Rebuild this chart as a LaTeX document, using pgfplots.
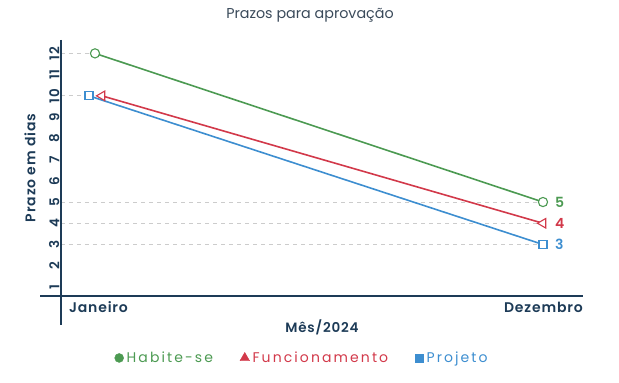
\documentclass[border=0pt]{standalone}
\usepackage{fontspec}
\setmainfont{Poppins}
\newfontfamily\lsfont[LetterSpace=15]{Poppins}
\newfontfamily\bfls[LetterSpace=6]{Poppins SemiBold}
\usepackage{pgfplots}
\pgfplotsset{compat=1.18}
\definecolor{cg}{HTML}{4C9A52}
\definecolor{cr}{HTML}{D2394A}
\definecolor{cb}{HTML}{3D8ED0}
\definecolor{navy}{HTML}{1D3B57}
\definecolor{ttl}{HTML}{3A4A5A}
\definecolor{dgray}{HTML}{CCCCCC}
\begin{document}
\begin{tikzpicture}
\begin{axis}[
  scale only axis, width=522pt, height=256pt,
  xmin=-0.0759, xmax=1.0893, ymin=0.575, ymax=12.63,
  axis line style={draw=none}, clip=false,
  xtick=\empty,
  ytick={1,2,3,4,5,6,7,8,9,10,11,12},
  major tick length=0pt,
  /pgf/number format/assume math mode=true,
  yticklabel style={rotate=90, anchor=south, font=\bfls\fontsize{13.5}{15}\selectfont, text=navy, inner sep=1.5pt},
  legend style={at={(rel axis cs:0.462,-0.242)}, anchor=center, draw=none, fill=none,
    legend columns=3, font=\lsfont\fontsize{14}{16}\selectfont,
    /tikz/every even column/.append style={column sep=25pt},
    /tikz/every odd column/.append style={column sep=1pt}},
  legend cell align=left,
]
\coordinate (o) at (rel axis cs:0,0);
% guide lines
\addplot[dgray, dash pattern=on 4pt off 4pt, line width=0.8pt, forget plot] coordinates {(-0.0759,12) (0,12)};
\addplot[dgray, dash pattern=on 4pt off 4pt, line width=0.8pt, forget plot] coordinates {(-0.0759,10) (-0.0134,10)};
\addplot[dgray, dash pattern=on 4pt off 4pt, line width=0.8pt, forget plot] coordinates {(-0.0759,5) (1,5)};
\addplot[dgray, dash pattern=on 4pt off 4pt, line width=0.8pt, forget plot] coordinates {(-0.0759,4) (1,4)};
\addplot[dgray, dash pattern=on 4pt off 4pt, line width=0.8pt, forget plot] coordinates {(-0.0759,3) (1,3)};
% series
\addplot[cb, line width=1.6pt, mark=square*, mark size=4pt, mark options={fill=white, line width=1.1pt}, forget plot]
  coordinates {(-0.0134,10) (1,3)} node[pos=1, anchor=west, xshift=8pt, font=\bfls\fontsize{14}{16}\selectfont] {3};
\addplot[cr, line width=1.6pt, mark=triangle*, mark size=5.5pt, mark options={fill=white, line width=1.1pt, rotate=90}, forget plot]
  coordinates {(0.0156,10) (1,4)} node[pos=1, anchor=west, xshift=8pt, font=\bfls\fontsize{14}{16}\selectfont] {4};
\addplot[cg, line width=1.6pt, mark=*, mark size=4.6pt, mark options={fill=white, line width=1.1pt}, forget plot]
  coordinates {(0,12) (1,5)} node[pos=1, anchor=west, xshift=8pt, font=\bfls\fontsize{14}{16}\selectfont] {5};
% legend
\addlegendimage{only marks, mark=*, cg, mark size=4.5pt}
\addlegendentry{\textcolor{cg}{Habite-se}}
\addlegendimage{only marks, mark=triangle*, cr, mark size=5.5pt}
\addlegendentry{\textcolor{cr}{Funcionamento}}
\addlegendimage{only marks, mark=square*, cb, mark size=4.2pt}
\addlegendentry{\textcolor{cb}{Projeto}}
% axis lines
\draw[navy, line width=2.4pt] (rel axis cs:-0.040,0) -- (rel axis cs:1,0);
\draw[navy, line width=2.4pt] (rel axis cs:0,1) -- (rel axis cs:0,-0.113);
% tick labels on x
\node[anchor=west, inner sep=0pt, text=navy, font=\bfls\fontsize{14}{16}\selectfont] at ([yshift=-11pt]rel axis cs:0.015,0) {Janeiro};
\node[anchor=east, inner sep=0pt, text=navy, font=\bfls\fontsize{14}{16}\selectfont] at ([yshift=-11pt]rel axis cs:1,0) {Dezembro};
% labels
\node[text=navy, font=\bfls\fontsize{13.5}{15}\selectfont] at ([yshift=-31pt]rel axis cs:0.5,0) {Mês/2024};
\node[rotate=90, text=navy, font=\bfls\fontsize{14}{16}\selectfont] at ([xshift=-31pt]rel axis cs:0,0.5) {Prazo em dias};
\node[text=ttl, font=\fontsize{14.3}{16}\selectfont] at ([yshift=25pt]rel axis cs:0.477,1) {Prazos para aprovação};
\end{axis}
\pgfresetboundingbox
\path (o) ++(-61pt,-87pt) rectangle ++(619pt,383pt);
\end{tikzpicture}
\end{document}
